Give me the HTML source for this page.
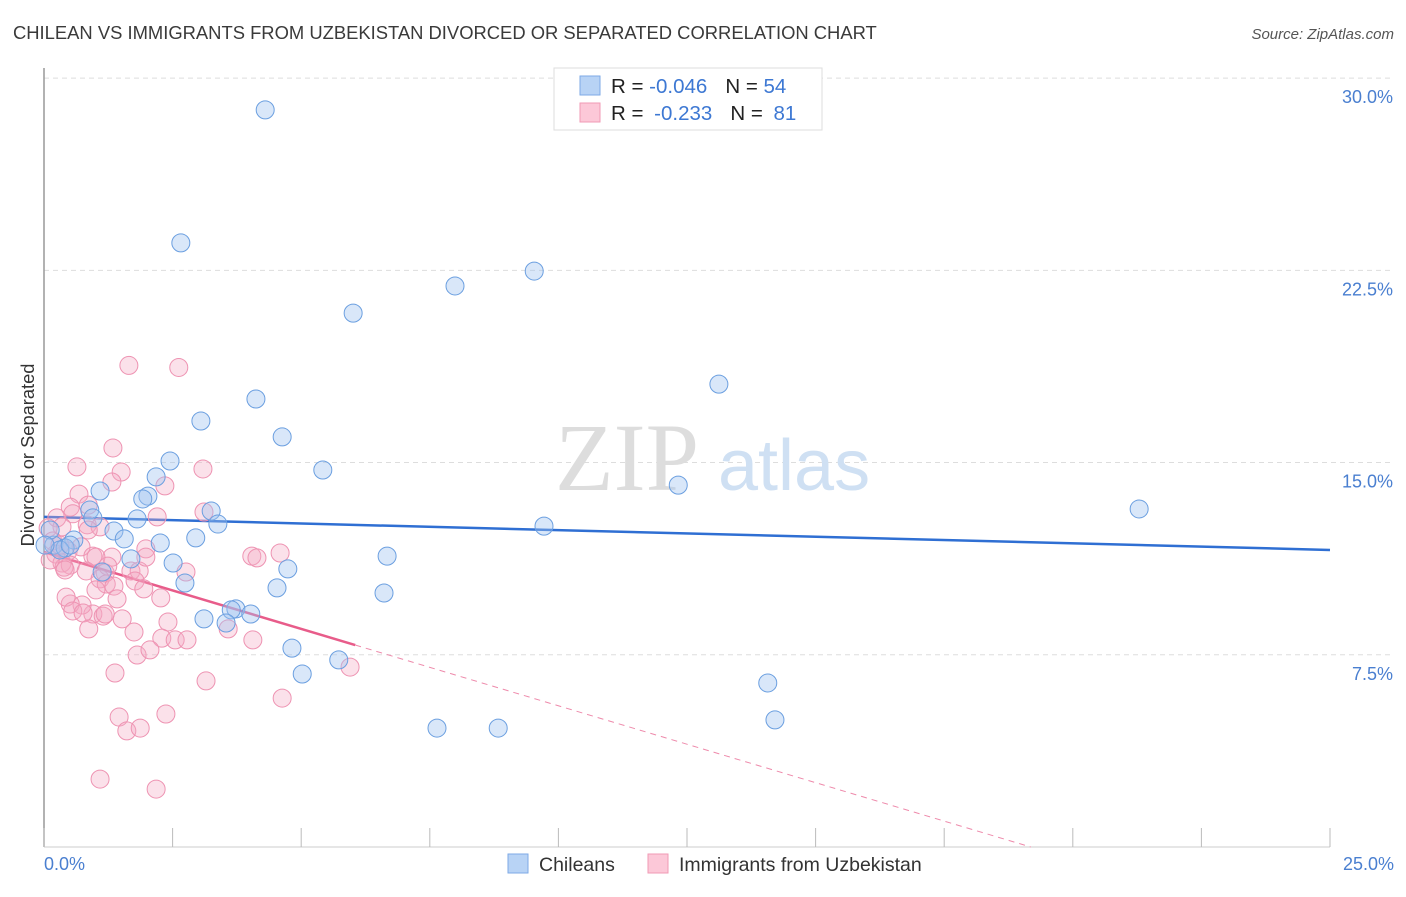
<!DOCTYPE html>
<html><head><meta charset="utf-8"><style>
body{margin:0;background:#fff;font-family:"Liberation Sans",sans-serif;}
svg text{font-family:"Liberation Sans",sans-serif;}
</style></head><body>
<svg id="chart" width="1406" height="892" viewBox="0 0 1406 892" xmlns="http://www.w3.org/2000/svg">
<text x="13" y="39" font-size="18.4" fill="#3a3a3a">CHILEAN VS IMMIGRANTS FROM UZBEKISTAN DIVORCED OR SEPARATED CORRELATION CHART</text>
<text x="1394" y="39" font-size="15" fill="#555" text-anchor="end" font-style="italic">Source: ZipAtlas.com</text>
<g id="grid"></g>
<text x="555" y="490" font-size="96" fill="#ddd" font-family="Liberation Serif" style="font-family:'Liberation Serif',serif">ZIP</text>
<text x="718" y="490" font-size="72" fill="#cfe0f3">atlas</text>
<line x1="44" y1="68" x2="44" y2="847" stroke="#999" stroke-width="1.5"/>
<line x1="44" y1="847" x2="1330" y2="847" stroke="#ccc"/>
<g id="ticks"></g>
<g id="ylabels"></g>
<text transform="translate(34,455) rotate(-90)" font-size="18.3" fill="#333" text-anchor="middle">Divorced or Separated</text>
<text x="44" y="870" font-size="18" fill="#4a7fd0">0.0%</text>
<text x="1394" y="870" font-size="18" fill="#4a7fd0" text-anchor="end">25.0%</text>
<g id="trend"></g>
<g id="pts"></g>
<g>
<rect x="554" y="68" width="268" height="62" fill="#fff" stroke="#ddd"/>
<rect x="580" y="76" width="20" height="19" fill="#b8d3f5" stroke="#7eaae6"/>
<rect x="580" y="103" width="20" height="19" fill="#fcc8d8" stroke="#f09ab5"/>
<text x="611" y="93" font-size="20.5" fill="#222">R = <tspan fill="#3d78d3">-0.046</tspan><tspan dx="18">N = </tspan><tspan fill="#3d78d3">54</tspan></text>
<text x="611" y="120" font-size="20.5" fill="#222">R = <tspan fill="#3d78d3" dx="5">-0.233</tspan><tspan dx="18">N = </tspan><tspan fill="#3d78d3" dx="5">81</tspan></text>
</g>
<g>
<rect x="508" y="854" width="20" height="19" fill="#b8d3f5" stroke="#7eaae6"/>
<text x="539" y="871" font-size="19.5" fill="#333">Chileans</text>
<rect x="648" y="854" width="20" height="19" fill="#fcc8d8" stroke="#f09ab5"/>
<text x="679" y="871" font-size="19.5" fill="#333">Immigrants from Uzbekistan</text>
</g>
</svg>
<script>
const blueX=[4.30,2.66,9.53,7.99,6.01,13.12,4.12,3.05,4.63,2.45,5.42,2.18,1.09,2.02,1.92,12.33,3.25,21.29,0.89,0.95,1.81,3.38,9.72,1.36,1.56,2.95,0.58,2.26,0.19,0.41,6.67,1.69,2.51,4.74,1.13,2.74,4.53,6.61,3.73,3.64,4.02,3.11,3.54,4.82,5.73,5.02,14.07,14.21,7.64,8.83,0.12,0.31,0.51,0.02];
const blueY=[28.76,23.57,22.47,21.89,20.83,18.06,17.48,16.62,16.00,15.06,14.71,14.44,13.89,13.69,13.58,14.12,13.11,13.19,13.15,12.84,12.80,12.60,12.52,12.33,12.02,12.06,11.98,11.86,11.78,11.67,11.35,11.24,11.08,10.85,10.73,10.30,10.11,9.91,9.29,9.25,9.09,8.90,8.74,7.76,7.30,6.75,6.40,4.96,4.64,4.64,12.37,11.59,11.78,11.78];
const pinkX=[1.65,2.62,1.34,0.64,1.50,3.09,2.35,1.32,0.68,0.86,0.51,3.11,2.20,0.25,0.56,0.35,0.84,1.09,0.08,0.17,0.47,0.72,0.95,1.32,1.01,0.23,0.35,0.51,0.39,0.41,0.82,1.19,1.24,1.69,1.85,2.76,1.77,1.94,1.09,1.21,1.36,1.01,0.95,1.15,1.98,1.98,4.04,4.14,4.59,1.42,0.74,0.51,0.43,0.56,0.76,0.87,1.52,1.19,2.41,1.75,2.29,2.55,2.78,2.27,4.06,3.58,1.81,2.06,1.38,3.15,4.63,5.95,1.46,2.37,1.61,1.87,1.09,2.18,0.86,0.12,0.31];
const pinkY=[18.79,18.71,15.57,14.83,14.63,14.75,14.09,14.24,13.77,13.34,13.26,13.07,12.88,12.84,13.00,12.49,12.57,12.49,12.45,11.94,11.55,11.71,11.35,11.31,11.31,11.43,11.08,11.00,10.92,10.81,10.77,10.69,10.96,10.77,10.77,10.73,10.38,10.07,10.46,10.26,10.18,10.03,9.09,9.01,11.63,11.31,11.35,11.28,11.47,9.68,9.44,9.48,9.75,9.21,9.13,8.51,8.90,9.09,8.78,8.39,8.15,8.08,8.08,9.72,8.08,8.51,7.49,7.69,6.79,6.48,5.81,7.02,5.07,5.19,4.53,4.64,2.65,2.26,12.37,11.20,11.78];
const yTicks=[7.5,15,22.5,30];
const yTickLabels=["7.5%","15.0%","22.5%","30.0%"];
const xTicks=[0,2.5,5,7.5,10,12.5,15,17.5,20,22.5,25];
const blueTrend=[12.88,11.59];
const pinkTrend=[11.51,-0.60];
const pinkSolidEnd=6.05;

const NS="http://www.w3.org/2000/svg";
const sx=v=>44+v*51.44, sy=v=>847-v*25.63;
function mk(p,tag,at){const e=document.createElementNS(NS,tag);for(const k in at)e.setAttribute(k,at[k]);p.appendChild(e);return e;}
const grid=document.getElementById('grid'),ticks=document.getElementById('ticks'),yl=document.getElementById('ylabels');
yTicks.forEach((t,i)=>{
 const l=mk(grid,'line',{x1:44,x2:1394,y1:sy(t),y2:sy(t),stroke:'#ddd','stroke-dasharray':'5,4'});
 
 
 const tx=mk(yl,'text',{x:1393,y:sy(t)+25,'font-size':18,fill:'#4a7fd0','text-anchor':'end'});
 tx.textContent=yTickLabels[i];
 
 
});
xTicks.forEach(t=>{
 const l=mk(ticks,'line',{x1:sx(t),x2:sx(t),y1:828,y2:847,stroke:'#bbb'});
 
 
});
const pts=document.getElementById('pts');
pinkX.forEach((x,i)=>{
 const c=mk(pts,'circle',{cx:sx(x),cy:sy(pinkY[i]),r:9,fill:'rgba(244,170,195,0.35)',stroke:'#ee93b2','stroke-width':1});
 
 
});
blueX.forEach((x,i)=>{
 const c=mk(pts,'circle',{cx:sx(x),cy:sy(blueY[i]),r:9,fill:'rgba(160,196,240,0.4)',stroke:'#6b9fe0','stroke-width':1});
 
 
});
const tr=document.getElementById('trend');
let e=mk(tr,'line',{x1:sx(0),y1:sy(blueTrend[0]),x2:sx(25),y2:sy(blueTrend[1]),stroke:'#2f6fd3','stroke-width':2.5});


const pz=-pinkTrend[0]/pinkTrend[1];
e=mk(tr,'line',{x1:sx(pinkSolidEnd),y1:sy(pinkTrend[0]+pinkTrend[1]*pinkSolidEnd),x2:sx(pz),y2:sy(0),stroke:'#ee8aab','stroke-width':1,'stroke-dasharray':'6,5'});


e=mk(tr,'line',{x1:sx(0),y1:sy(pinkTrend[0]),x2:sx(pinkSolidEnd),y2:sy(pinkTrend[0]+pinkTrend[1]*pinkSolidEnd),stroke:'#e85c8a','stroke-width':2.5});


</script>
</body></html>
